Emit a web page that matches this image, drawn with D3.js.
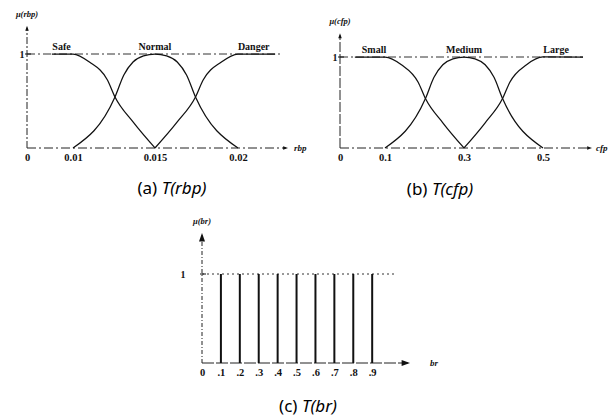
<!DOCTYPE html>
<html>
<head>
<meta charset="utf-8">
<script src="https://cdn.jsdelivr.net/npm/d3@7"></script>
<style>
body { margin: 0; background: #fff; }
svg { display: block; }
.term, .tick text { font-family: "Liberation Serif", serif; font-weight: bold; fill: #111; }
.mu, .axname { font-family: "Liberation Serif", serif; font-weight: bold; font-style: italic; fill: #111; }
.caption { font-family: "Noto Sans", sans-serif; font-size: 17px; font-weight: 400; fill: #000; }
</style>
</head>
<body>
<svg width="609" height="418"></svg>
<script>
// (a) T(rbp)
const rbpTicks = [0, 0.01, 0.015, 0.02];
const rbpTerms = ["Safe", "Normal", "Danger"];
const rbpTermAt = [0.0075, 0.015, 0.0211];
const rbpSafe = [[0.0054, 1], [0.01, 1], [0.011, 0.915], [0.0121, 0.723], [0.01256, 0.543], [0.01366, 0.277], [0.015, 0]];
const rbpNormal = [[0.01, 0], [0.01256, 0.543], [0.0131, 0.777], [0.01366, 0.915], [0.0143, 0.98], [0.015, 1],
    [0.0157, 0.98], [0.01634, 0.915], [0.0169, 0.777], [0.01744, 0.543], [0.02, 0]];
const rbpDanger = [[0.015, 0], [0.01634, 0.277], [0.01744, 0.543], [0.0179, 0.723], [0.019, 0.915], [0.02, 1], [0.0226, 1]];

// (b) T(cfp)
const cfpTicks = [0, 0.1, 0.3, 0.5];
const cfpTerms = ["Small", "Medium", "Large"];
const cfpTermAt = [0.0756, 0.3, 0.532];
const cfpSmall = [[0.033, 1], [0.1, 1], [0.1416, 0.915], [0.184, 0.723], [0.2024, 0.543], [0.2464, 0.277], [0.3, 0]];
const cfpMedium = [[0.1, 0], [0.2024, 0.543], [0.224, 0.777], [0.2464, 0.915], [0.272, 0.98], [0.3, 1],
    [0.328, 0.98], [0.3536, 0.915], [0.376, 0.777], [0.3976, 0.543], [0.5, 0]];
const cfpLarge = [[0.3, 0], [0.3536, 0.277], [0.3976, 0.543], [0.416, 0.723], [0.4584, 0.915], [0.5, 1], [0.598, 1]];

// (c) T(br)
const brValues = [0.1, 0.2, 0.3, 0.4, 0.5, 0.6, 0.7, 0.8, 0.9];
const brMu = [1, 1, 1, 1, 1, 1, 1, 1, 1];
const brTicks = [0, 0.1, 0.2, 0.3, 0.4, 0.5, 0.6, 0.7, 0.8, 0.9];
const brTickLabels = ["0", ".1", ".2", ".3", ".4", ".5", ".6", ".7", ".8", ".9"];

const svg = d3.select("svg");

function arrow(g, pts) {
    g.append("path").attr("d", d3.line()(pts) + "Z").attr("fill", "#111");
}

function axes(g, x, y, o) {
    const x0 = x(0), y0 = y(0);
    const xEnd = x.range()[x.range().length - 1];
    const yTop = y(o.yMax);
    g.append("line").attr("x1", x0).attr("x2", x0).attr("y1", y0).attr("y2", yTop + 2)
        .attr("stroke", "#222").attr("stroke-width", 1).attr("stroke-dasharray", o.yDash);
    g.append("line").attr("x1", x0).attr("x2", xEnd - 2).attr("y1", y0).attr("y2", y0)
        .attr("stroke", "#222").attr("stroke-width", 1).attr("stroke-dasharray", o.xDash);
    const a = o.arrow;
    arrow(g, [[x0, yTop], [x0 - a / 2, yTop + a * 1.4], [x0 + a / 2, yTop + a * 1.4]]);
    arrow(g, [[xEnd, y0], [xEnd - a * 1.4, y0 - a / 2], [xEnd - a * 1.4, y0 + a / 2]]);
    // level 1
    g.append("line").attr("x1", x0).attr("x2", x(o.levelEnd)).attr("y1", y(1)).attr("y2", y(1))
        .attr("stroke", "#333").attr("stroke-width", 1).attr("stroke-dasharray", o.levelDash);
    g.append("line").attr("x1", x0 - 2).attr("x2", x0 + 4).attr("y1", y(1)).attr("y2", y(1))
        .attr("stroke", "#111");
    g.append("text").attr("class", "term").attr("x", x0 - o.oneDx).attr("y", y(1) + 3.5)
        .attr("text-anchor", "middle").attr("font-size", 10).text("1");
    g.append("text").attr("class", "mu").attr("x", x0).attr("y", yTop - 9)
        .attr("text-anchor", "middle").attr("font-size", 8.5).text(o.mu);
    g.append("text").attr("class", "axname").attr("x", xEnd + o.nameDx).attr("y", y0 + 3)
        .attr("font-size", 9).text(o.name);
    const ax = g.append("g").attr("transform", `translate(0,${y0 + 6})`)
        .call(d3.axisBottom(x).tickValues(o.ticks).tickSize(0).tickPadding(0).tickFormat(o.fmt));
    ax.select(".domain").remove();
    ax.selectAll("text").attr("font-size", 10.5).attr("dy", "0.71em");
    g.append("text").attr("class", "caption").attr("x", o.cap[0]).attr("y", o.cap[1])
        .attr("text-anchor", "middle")
        .call(t => {
            t.append("tspan").text(o.capHead + " ");
            t.append("tspan").attr("font-style", "italic").text(o.capBody);
        });
}

function fuzzy(g, x, y, sets, terms, termAt) {
    const line = d3.line().x(d => x(d[0])).y(d => y(d[1])).curve(d3.curveMonotoneX);
    g.selectAll("path.mf").data(sets).join("path").attr("class", "mf")
        .attr("d", line).attr("fill", "none").attr("stroke", "#111").attr("stroke-width", 1.25);
    g.selectAll("text.lab").data(terms).join("text").attr("class", "term lab")
        .attr("x", (d, i) => x(termAt[i])).attr("y", y(1) - 4)
        .attr("text-anchor", "middle").attr("font-size", 10).text(d => d);
}

// panel a
const xa = d3.scaleLinear().domain([0, 0.01, 0.015, 0.02, 0.0235]).range([27, 73, 155, 238, 288]);
const ya = d3.scaleLinear().domain([0, 1]).range([148, 54]);
const ga = svg.append("g");
axes(ga, xa, ya, {yMax: 1.3, yDash: "7,2,2,2", xDash: "9,3,2,3", levelDash: "8,3,2,3", levelEnd: 0.023,
    arrow: 3.5, oneDx: 5, nameDx: 6, mu: "μ(rbp)", name: "rbp", ticks: rbpTicks,
    fmt: d => d === 0 ? "0" : d3.format("")(d),
    cap: [172, 194], capHead: "(a)", capBody: "T(rbp)"});
fuzzy(ga, xa, ya, [rbpSafe, rbpNormal, rbpDanger], rbpTerms, rbpTermAt);

// panel b
const xb = d3.scaleLinear().domain([0, 0.1, 0.3, 0.5, 0.62]).range([340, 385, 464, 543, 592]);
const yb = d3.scaleLinear().domain([0, 1]).range([148, 57]);
const gb = svg.append("g");
axes(gb, xb, yb, {yMax: 1.26, yDash: "10,2", xDash: "9,3,2,3", levelDash: "8,3,2,3", levelEnd: 0.598,
    arrow: 3.5, oneDx: 5, nameDx: 4, mu: "μ(cfp)", name: "cfp", ticks: cfpTicks,
    fmt: d => d === 0 ? "0" : d3.format("")(d),
    cap: [440, 195], capHead: "(b)", capBody: "T(cfp)"});
fuzzy(gb, xb, yb, [cfpSmall, cfpMedium, cfpLarge], cfpTerms, cfpTermAt);

// panel c
const xc = d3.scaleLinear().domain([0, 1.1]).range([202, 410]);
const yc = d3.scaleLinear().domain([0, 1]).range([363, 274]);
const gc = svg.append("g");
axes(gc, xc, yc, {yMax: 1.46, yDash: "4,2,1,2", xDash: "12,2", levelDash: "2,3", levelEnd: 1.03,
    arrow: 6, oneDx: 19, nameDx: 20, mu: "μ(br)", name: "br", ticks: brTicks, fmt: (d, i) => brTickLabels[i],
    cap: [308, 412], capHead: "(c)", capBody: "T(br)"});
gc.selectAll("line.bar").data(brValues).join("line").attr("class", "bar")
    .attr("x1", d => xc(d)).attr("x2", d => xc(d))
    .attr("y1", yc(0)).attr("y2", (d, i) => yc(brMu[i]))
    .attr("stroke", "#111").attr("stroke-width", 2);
</script>
</body>
</html>
